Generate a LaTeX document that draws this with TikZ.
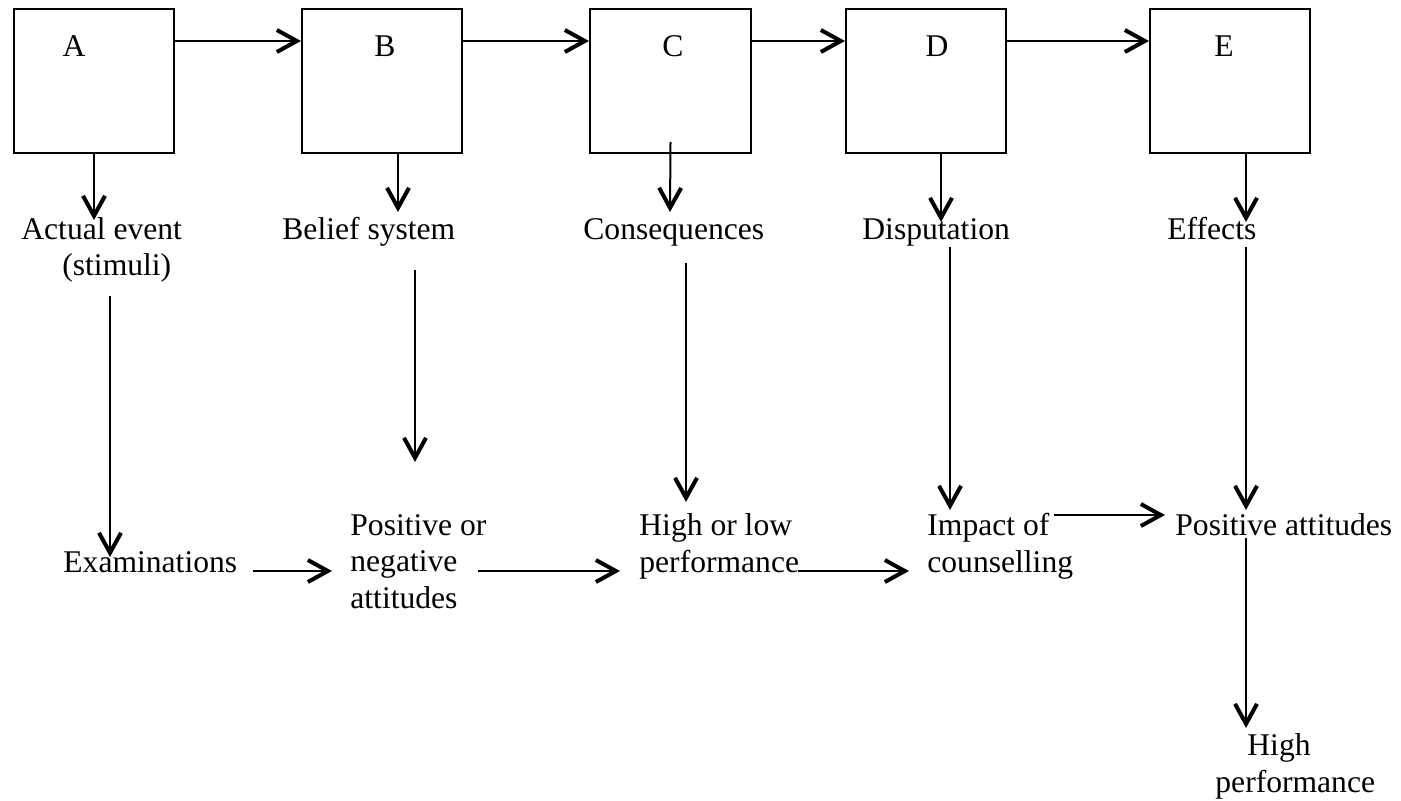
\documentclass[tikz,border=0pt]{standalone}
\usepackage{fontspec}
\setmainfont{Liberation Serif}
\usetikzlibrary{arrows.meta}
\newcommand\dfont{\fontsize{15.8pt}{18.25pt}\selectfont}
\begin{document}
\begin{tikzpicture}[x=0.5pt,y=-0.5pt,
  box/.style={draw,line width=1pt,minimum width=80pt,minimum height=72pt,inner sep=0pt},
  lbl/.style={inner sep=0pt,font=\dfont,align=left,anchor=base west},
  ltr/.style={inner sep=0pt,font=\dfont,anchor=base},
  arr/.style={line width=1pt,-{Straight Barb[length=10pt,width=11pt,line width=2pt,sharp]}}]
\useasboundingbox (0,0) rectangle (1401,801);
% boxes
\node[box] (A) at (94,81) {};
\node[box] (B) at (382,81) {};
\node[box,minimum width=80.5pt] (C) at (670.5,81) {};
\node[box] (D) at (926,81) {};
\node[box] (E) at (1230,81) {};
\node[ltr] (lA) at (74,57) {A};
\node[ltr] (lB) at (385,57) {B};
\node[ltr] (lC) at (673,57) {C};
\node[ltr] (lD) at (937,57) {D};
\node[ltr] (lE) at (1224,57) {E};
% top arrows
\coordinate (top) at (0,41);
\draw[arr] (A.east |- top) -- (B.west |- top);
\draw[arr] (B.east |- top) -- (C.west |- top);
\draw[arr] (C.east |- top) -- (D.west |- top);
\draw[arr] (D.east |- top) -- (E.west |- top);
% first row labels (multi-line nodes: base = last line)
\node[lbl] (act) at (21,276) {Actual event\\\hspace*{20.5pt}(stimuli)};
\node[lbl] (bel) at (282,240) {Belief system};
\node[lbl] (con) at (583,240) {Consequences};
\node[lbl] (dis) at (862,240) {Disputation};
\node[lbl] (eff) at (1167,240) {Effects};
% second row labels
\node[lbl] (exam) at (63,572) {Examinations};
\node[lbl] (pos) at (350,608) {Positive or\\negative\\attitudes};
\node[lbl] (hol) at (639,572) {High or low\\performance};
\node[lbl] (imp) at (927,572) {Impact of\\counselling};
\node[lbl] (pat) at (1175,535) {Positive attitudes};
\node[lbl] (hp) at (1215,792) {\hspace*{16pt}High\\performance};
% short down arrows
\coordinate (tA) at (94,220);
\coordinate (tB) at (398,212);
\coordinate (tC) at (670,212);
\coordinate (tD) at (941,222);
\coordinate (tE) at (1246,222);
\draw[arr] (A.south) -- (tA);
\draw[arr] (B.south -| tB) -- (tB);
\draw[arr] ([yshift=6pt]C.south) -- (tC);
\draw[arr] (D.south -| tD) -- (tD);
\draw[arr] (E.south -| tE) -- (tE);
% long down arrows
\coordinate (sA) at (110,296); \coordinate (eA) at (110,557);
\coordinate (sB) at (415,270); \coordinate (eB) at (415,462);
\coordinate (sC) at (686,263); \coordinate (eC) at (686,502);
\coordinate (sD) at (950,247); \coordinate (eD) at (950,510);
\coordinate (sE) at (1246,247); \coordinate (eE) at (1246,510);
\coordinate (sF) at (1246,538); \coordinate (eF) at (1246,728);
\draw[arr] (sA) -- (eA);
\draw[arr] (sB) -- (eB);
\draw[arr] (sC) -- (eC);
\draw[arr] (sD) -- (eD);
\draw[arr] (sE) -- (eE);
\draw[arr] (sF) -- (eF);
% bottom horizontal arrows
\coordinate (h1) at (253,571); \coordinate (g1) at (332,571);
\coordinate (h2) at (478,571); \coordinate (g2) at (620,571);
\coordinate (h3) at (798,571); \coordinate (g3) at (909,571);
\coordinate (h4) at (1054,515); \coordinate (g4) at (1165,515);
\draw[arr] (h1) -- (g1);
\draw[arr] (h2) -- (g2);
\draw[arr] (h3) -- (g3);
\draw[arr] (h4) -- (g4);
\end{tikzpicture}
\end{document}
